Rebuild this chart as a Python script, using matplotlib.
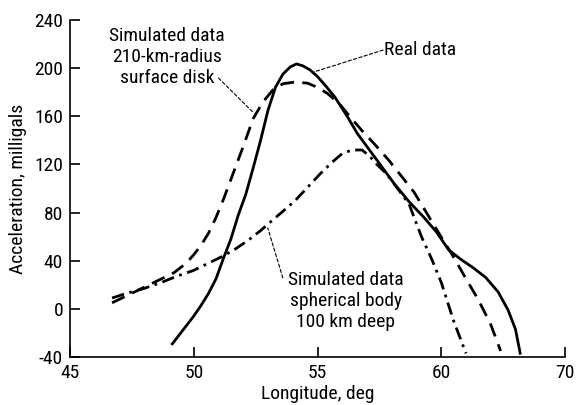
import matplotlib
matplotlib.use("Agg")
import matplotlib.pyplot as plt

# ---- data ----
real_x = [49.1, 49.4, 49.7, 50.0, 50.3, 50.6, 50.9, 51.2, 51.5, 51.8, 52.1, 52.4, 52.7, 53.0,
          53.3, 53.6, 53.9, 54.15, 54.4, 54.7, 55.0, 55.3, 55.7, 56.2, 56.6, 57.1, 57.6, 58.1,
          58.7, 59.3, 59.8, 60.3, 60.8, 61.3, 61.8, 62.3, 62.7, 63.0, 63.2]
real_y = [-30, -22, -14, -6, 3, 13, 25, 42, 58, 78, 95, 117, 140, 165,
          184, 195, 201, 203.5, 202, 198.5, 193, 186, 176, 160, 146, 132, 118, 104,
          89, 76, 64, 49, 41, 34, 26, 14, -1, -17, -38]

disk_x = [46.7, 47.3, 48.0, 48.6, 49.2, 49.7, 50.0, 50.3, 50.6, 50.9, 51.2, 51.6, 52.0, 52.4,
          52.8, 53.2, 53.6, 54.1, 54.6, 55.0, 55.4, 55.9, 56.3, 56.8, 57.3, 57.9, 58.4, 58.9,
          59.4, 59.9, 60.5, 61.0, 61.5, 62.0, 62.4]
disk_y = [5, 11, 18, 24, 30, 38, 45, 53, 63, 76, 91, 113, 135, 158,
          172, 182, 187, 188.5, 187.5, 184, 179, 170, 160, 148, 137, 123, 110, 97,
          80, 63, 43, 25, 7.5, -13, -35]

sphere_x = [46.7, 47.3, 48.0, 48.7, 49.3, 50.0, 50.6, 51.2, 51.7, 52.2, 52.7, 53.2, 53.6, 54.1,
            54.6, 55.1, 55.6, 56.0, 56.4, 56.8, 57.1, 57.4, 57.8, 58.2, 58.7, 59.2, 59.6, 60.0,
            60.5, 61.0]
sphere_y = [9, 13, 17, 22, 27, 32, 38, 44, 50, 57, 65, 74, 81, 90,
            101, 112, 122, 129, 132, 132, 127, 120, 112, 101, 87, 60, 42, 22,
            -10, -37]

xtick_pos = [45, 50, 55, 60, 65]
xtick_labels = ["45", "50", "55", "60", "70"]
yticks = [-40, 0, 40, 80, 120, 160, 200, 240]

plt.rcParams["font.family"] = ["Roboto Condensed", "DejaVu Sans"]
plt.rcParams["axes.unicode_minus"] = False

fig = plt.figure(figsize=(5.77, 4.05), dpi=100)
ax = fig.add_axes([70 / 577, 1 - 357 / 405, 495 / 577, 337 / 405])

lw = 2.0
ax.plot(real_x, real_y, color="black", lw=lw, solid_capstyle="butt", solid_joinstyle="round")
ax.plot(disk_x, disk_y, color="black", lw=lw, linestyle=(0, (5, 3)))
ax.plot(sphere_x, sphere_y, color="black", lw=lw, linestyle=(0, (4.5, 2, 1, 2)))

ax.set_xlim(45, 65)
ax.set_ylim(-40, 240)
ax.set_xticks(xtick_pos)
ax.set_xticklabels(xtick_labels)
ax.set_yticks(yticks)
for s in ["top", "right"]:
    ax.spines[s].set_visible(False)
for s in ["left", "bottom"]:
    ax.spines[s].set_linewidth(1.2)
ax.tick_params(direction="in", length=7, width=1.2, labelsize=14, pad=5)

ax.set_xlabel("Longitude, deg", fontsize=14, labelpad=2)
ax.set_ylabel("Acceleration, milligals", fontsize=14, labelpad=5)

leader = dict(arrowstyle="-", color="black", lw=0.8, linestyle=(0, (3, 2)),
              shrinkA=0, shrinkB=0)
ax.text(48.93, 209.3, "Simulated data\n210-km-radius\nsurface disk", ha="center",
        va="center", fontsize=14, linespacing=1.2)
ax.annotate("", xy=(52.42, 162.8), xytext=(51.0, 191.8), arrowprops=leader)
ax.text(57.7, 215, "Real data", ha="left", va="center", fontsize=14)
ax.annotate("", xy=(54.85, 196.8), xytext=(57.65, 215), arrowprops=leader)
ax.text(56.15, 6.6, "Simulated data\nspherical body\n100 km deep", ha="center",
        va="center", fontsize=14, linespacing=1.2)
ax.annotate("", xy=(52.99, 67.2), xytext=(53.6, 25.7), arrowprops=leader)

fig.savefig("out.png", dpi=100)
